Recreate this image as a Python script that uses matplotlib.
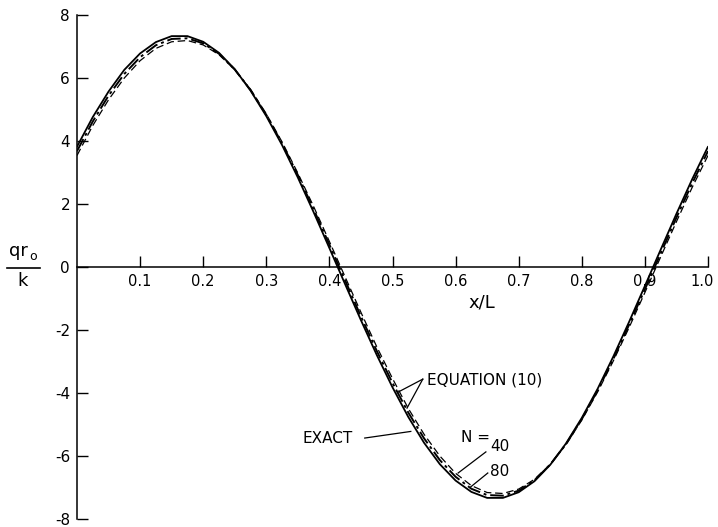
import matplotlib
matplotlib.use("Agg")
import matplotlib.pyplot as plt
import matplotlib.transforms as mtransforms
from matplotlib.lines import Line2D

plt.rcParams['font.family'] = ['DejaVu Sans']
plt.rcParams['axes.unicode_minus'] = False

# x/L positions (read every 0.025)
x = [0.0, 0.025, 0.05, 0.075, 0.1, 0.125, 0.15, 0.175, 0.2, 0.225,
     0.25, 0.275, 0.3, 0.325, 0.35, 0.375, 0.4, 0.425, 0.45, 0.475,
     0.5, 0.525, 0.55, 0.575, 0.6, 0.625, 0.65, 0.675, 0.7, 0.725,
     0.75, 0.775, 0.8, 0.825, 0.85, 0.875, 0.9, 0.925, 0.95, 0.975, 1.0]

# exact solution
exact = [3.82, 4.76, 5.57, 6.26, 6.78, 7.14, 7.33, 7.33, 7.15, 6.80,
         6.28, 5.60, 4.79, 3.87, 2.84, 1.74, 0.60, -0.55, -1.69, -2.79,
         -3.82, -4.76, -5.58, -6.26, -6.78, -7.14, -7.33, -7.33, -7.15, -6.80,
         -6.28, -5.60, -4.79, -3.87, -2.84, -1.74, -0.60, 0.55, 1.69, 2.79, 3.82]

# equation (10), N = 40
n40 = [3.54, 4.49, 5.31, 6.00, 6.55, 6.94, 7.15, 7.19, 7.05, 6.74,
       6.26, 5.64, 4.86, 3.97, 2.98, 1.92, 0.81, -0.32, -1.44, -2.53,
       -3.54, -4.49, -5.31, -6.00, -6.55, -6.94, -7.16, -7.19, -7.05, -6.74,
       -6.26, -5.64, -4.86, -3.97, -2.98, -1.92, -0.81, 0.32, 1.44, 2.53, 3.54]

# equation (10), N = 80
n80 = [3.68, 4.62, 5.44, 6.13, 6.66, 7.04, 7.24, 7.26, 7.10, 6.77,
       6.27, 5.62, 4.83, 3.92, 2.92, 1.83, 0.71, -0.43, -1.57, -2.66,
       -3.68, -4.62, -5.44, -6.13, -6.66, -7.04, -7.24, -7.26, -7.10, -6.77,
       -6.27, -5.62, -4.83, -3.92, -2.92, -1.83, -0.71, 0.43, 1.57, 2.66, 3.68]

xticks = [0.1, 0.2, 0.3, 0.4, 0.5, 0.6, 0.7, 0.8, 0.9, 1.0]
xticklabels = ['0.1', '0.2', '0.3', '0.4', '0.5', '0.6', '0.7', '0.8', '0.9', '1.0']
yticks = [-8, -6, -4, -2, 0, 2, 4, 6, 8]

fig = plt.figure(figsize=(7.18, 5.27), dpi=100)
ax = fig.add_axes([77 / 718, 1 - 519 / 527, 631 / 718, 504 / 527])

ax.plot(x, exact, color='black', lw=1.3, solid_capstyle='round')
ax.plot(x, n40, color='black', lw=0.9, dashes=(6, 3))
ax.plot(x, n80, color='black', lw=1.4, dashes=(7, 2, 1.5, 2))

ax.set_xlim(0, 1.0)
ax.set_ylim(-8, 8)

# axes styling: left spine plus a horizontal axis at zero
ax.spines['top'].set_visible(False)
ax.spines['right'].set_visible(False)
ax.spines['bottom'].set_position(('data', 0))
ax.spines['left'].set_linewidth(1.1)
ax.spines['bottom'].set_linewidth(1.1)

ax.set_xticks(xticks)
ax.set_xticklabels(xticklabels)
ax.set_yticks(yticks)
ax.tick_params(axis='x', direction='in', length=8, width=1, pad=5, labelsize=10.5)
ax.tick_params(axis='y', direction='in', length=8, width=1, pad=5, labelsize=11)

# pull the last x label in so it stays inside the figure
last = ax.get_xticklabels()[-1]
last.set_transform(last.get_transform() + mtransforms.ScaledTranslation(-4 / 72, 0, fig.dpi_scale_trans))

ax.text(0.642, -1.12, 'x/L', ha='center', va='center', fontsize=13)

# y label as a stacked fraction
fig.text(18 / 718, 1 - 251 / 527, 'qr', ha='center', va='center', fontsize=13)
fig.text(33 / 718, 1 - 257 / 527, 'o', ha='center', va='center', fontsize=9)
fig.add_artist(Line2D([7 / 718, 40 / 718], [1 - 268 / 527] * 2, color='black', lw=1.2))
fig.text(23 / 718, 1 - 281 / 527, 'k', ha='center', va='center', fontsize=13)

# annotations
ax.text(0.555, -3.59, 'EQUATION (10)', ha='left', va='center', fontsize=11)
ax.plot([0.548, 0.509], [-3.56, -3.97], color='black', lw=0.9)
ax.plot([0.548, 0.523], [-3.56, -4.48], color='black', lw=0.9)

ax.text(0.357, -5.46, 'EXACT', ha='left', va='center', fontsize=11)
ax.plot([0.456, 0.529], [-5.43, -5.22], color='black', lw=0.9)

ax.text(0.631, -5.40, 'N =', ha='center', va='center', fontsize=11)
ax.text(0.670, -5.71, '40', ha='center', va='center', fontsize=11)
ax.text(0.670, -6.48, '80', ha='center', va='center', fontsize=11)
ax.plot([0.648, 0.604], [-5.87, -6.54], color='black', lw=0.9)
ax.plot([0.651, 0.624], [-6.54, -6.98], color='black', lw=0.9)

fig.savefig('out.png', dpi=100)
